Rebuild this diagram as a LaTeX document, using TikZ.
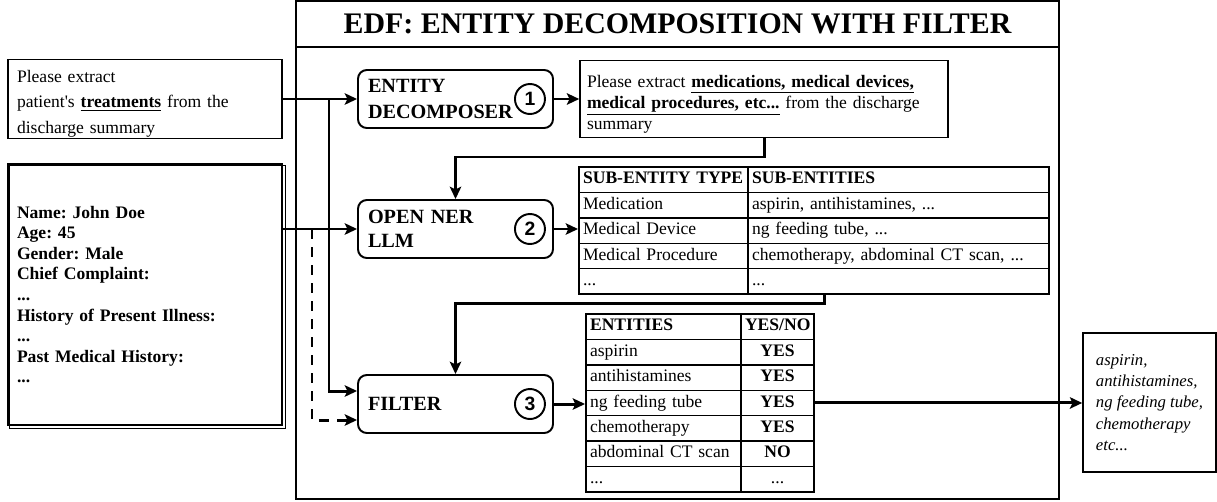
\documentclass[tikz,border=0pt]{standalone}
\usepackage{fontspec}
\setmainfont{Liberation Serif}
\newfontfamily\numfont{Liberation Sans}
\usepackage{tikz}
\usetikzlibrary{arrows.meta, positioning, calc, matrix}
\newlength\pxu
\setlength\pxu{0.02cm}
\frenchspacing

\tikzset{
  flow/.style={line width=1.7pt, -{Stealth[length=7pt,width=6.5pt,inset=1.5pt]}},
  dashflow/.style={flow, dash pattern=on 10\pxu off 8\pxu},
  stagebox/.style={draw, line width=1.1pt, rounded corners=5pt, minimum width=195\pxu,
    minimum height=58\pxu, text width=175\pxu, inner xsep=10\pxu, align=left,
    font=\fontsize{11.5}{14.5}\selectfont\bfseries},
  numcirc/.style={draw, circle, line width=1.1pt, minimum size=30\pxu, inner sep=0pt,
    font=\numfont\fontsize{11}{13}\selectfont\bfseries},
  textbox/.style={draw, line width=0.9pt, align=left, inner xsep=9\pxu, inner ysep=0pt,
    font=\fontsize{10}{14.5}\selectfont},
  tabcell/.style={draw, line width=0.8pt, minimum height=25.4\pxu, inner xsep=4\pxu,
    inner ysep=0pt, text height=7pt, text depth=2.2pt, anchor=center, align=left,
    font=\fontsize{10}{12}\selectfont},
  tabhead/.style={nodes={font=\fontsize{10}{12}\selectfont\bfseries}},
}

\begin{document}
\begin{tikzpicture}[x=1\pxu, y=-1\pxu]
\useasboundingbox (0,0) rectangle (1217,501);

\draw[line width=1.1pt] (296,1) rectangle (1059,499);
\draw[line width=1.1pt] (296,47) -- (1059,47);
\node (title) at (677.5,24) {\fontsize{17}{20}\selectfont\bfseries EDF: ENTITY DECOMPOSITION WITH FILTER};

\node[textbox, minimum width=274\pxu, minimum height=79\pxu, text width=256\pxu] (in1) at (145,99)
  {\rule{0pt}{12pt}Please extract\\patient\textquotesingle s \textbf{\underline{treatments}} from the\\discharge summary};
\node[textbox, line width=1.2pt, minimum width=274\pxu, minimum height=261\pxu, text width=256\pxu,
  font=\fontsize{10}{11.7}\selectfont\bfseries] (rec) at (145,294.5)
  {Name: John Doe\\Age: 45\\Gender: Male\\Chief Complaint:\\...\\History of Present Illness:\\...\\Past Medical History:\\...};
\draw[line width=0.4pt] ([shift={(2,2)}]rec.north west) rectangle ([shift={(2,2)}]rec.south east);

\node[stagebox] (dec) at (455.5,99) {ENTITY\\DECOMPOSER};
\node[numcirc] (c1) at ([xshift=-24\pxu]dec.east) {1};
\node[stagebox, font=\fontsize{11.5}{14}\selectfont\bfseries] (ner) at (455.5,229) {OPEN NER\\LLM};
\node[numcirc] (c2) at ([xshift=-24\pxu]ner.east) {2};
\node[stagebox] (filter) at (455.5,404) {FILTER};
\node[numcirc] (c3) at ([xshift=-24\pxu]filter.east) {3};

\node[textbox, minimum width=368\pxu, minimum height=77\pxu, text width=354\pxu, inner xsep=7\pxu,
  font=\fontsize{10}{12.2}\selectfont] (prompt) at (764,99)
  {\rule{0pt}{13pt}Please extract \textbf{\underline{medications, medical devices,}}\\
   \textbf{\underline{medical procedures, etc...}} from the discharge\\summary};

\matrix (subtab) [matrix of nodes, anchor=north west, inner sep=0pt, row sep=-0.8pt, column sep=-0.8pt,
  nodes={tabcell},
  column 1/.style={nodes={text width=161\pxu}},
  column 2/.style={nodes={text width=293\pxu}},
  row 1/.style={tabhead}] at (578,166) {
  SUB-ENTITY TYPE & SUB-ENTITIES \\
  Medication & aspirin, antihistamines, ... \\
  Medical Device & ng feeding tube, ... \\
  Medical Procedure & chemotherapy, abdominal CT scan, ... \\
  ... & ... \\
};

\matrix (enttab) [matrix of nodes, anchor=north west, inner sep=0pt, row sep=-0.8pt, column sep=-0.8pt,
  nodes={tabcell},
  column 1/.style={nodes={text width=147\pxu}},
  column 2/.style={nodes={text width=65\pxu, align=center, font=\fontsize{10}{12}\selectfont\bfseries}},
  row 1/.style={tabhead}] at (585,313) {
  ENTITIES & YES/NO \\
  aspirin & YES \\
  antihistamines & YES \\
  ng feeding tube & YES \\
  chemotherapy & YES \\
  abdominal CT scan & NO \\
  ... & |[font=\fontsize{10}{12}\selectfont]| ... \\
};

\node[textbox, minimum width=133\pxu, minimum height=139\pxu, inner xsep=6\pxu,
  font=\fontsize{9.5}{12}\selectfont\itshape] (out) at (1149.5,402.5)
  {aspirin,\\antihistamines,\\ng feeding tube,\\chemotherapy\\etc...};

\coordinate (j1) at (329,0);
\coordinate (j2) at (312,0);
\coordinate (b1) at (0,157);
\coordinate (b2) at (0,303);
\coordinate (t1) at ([xshift=10\pxu]subtab.south);

\draw[flow] (in1.east) -- (dec.west);
\draw[flow] (in1.east -| j1) |- ([yshift=13\pxu]filter.west);
\draw[flow] (rec.east |- ner.west) -- (ner.west);
\draw[dashflow] (j2 |- ner.west) |- ([yshift=-16\pxu]filter.west);
\draw[flow] (dec.east) -- (prompt.west);
\draw[flow] (prompt.south) -- (prompt.south |- b1) -- (b1 -| ner.north) -- (ner.north);
\draw[flow] (ner.east) -- (ner.east -| subtab.west);
\draw[flow] (t1) -- (t1 |- b2) -- (b2 -| filter.north) -- (filter.north);
\draw[flow] (filter.east) -- (filter.east -| enttab.west);
\draw[flow] (enttab.east) -- (enttab.east -| out.west);
\end{tikzpicture}
\end{document}
